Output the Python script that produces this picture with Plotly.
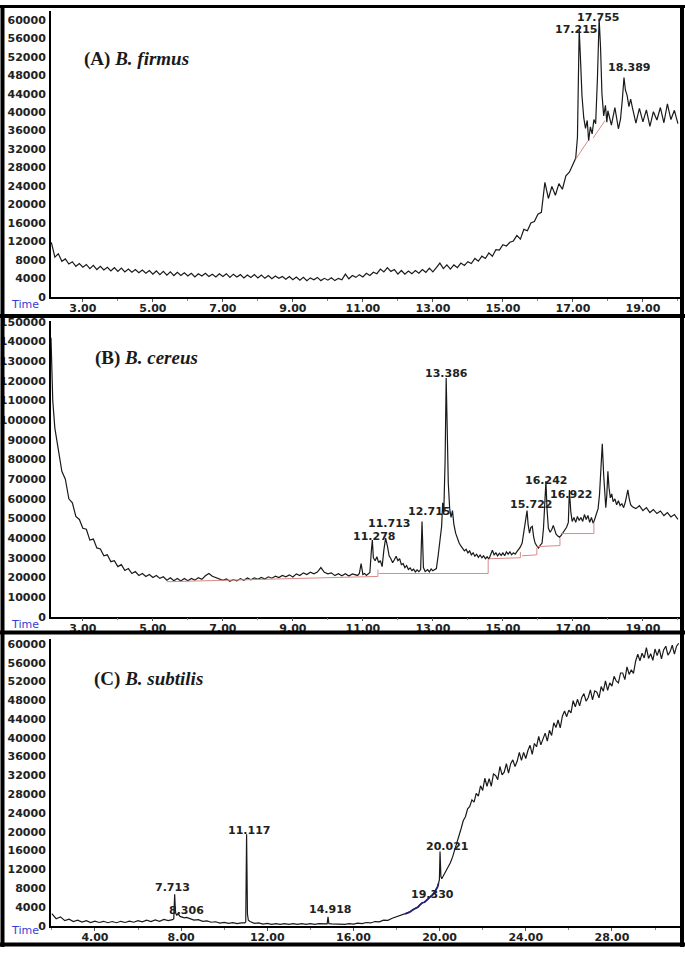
import numpy as np
import plotly.graph_objects as go

# ---------------- Panel A : B. firmus ----------------
A_grid_start, A_grid_step = 2.1, 0.1
A_grid = [
    11800, 8600, 9300, 7700, 8200, 7100, 7600, 6600, 7200,
    6400, 7000, 6100, 6800, 5900, 6600, 5800, 6400, 5600, 6300,
    5500, 6200, 5400, 6000, 5300, 5900, 5200, 5800, 5100, 5700,
    4900, 5600, 4800, 5500, 4700, 5400, 4600, 5300, 4600, 5200,
    4500, 5100, 4300, 5000, 4500, 5100, 4400, 4900, 4300, 5000,
    4400, 5000, 4200, 4900, 4300, 4800, 4100, 4700, 4200, 4800,
    4100, 4700, 4000, 4600, 3900, 4500, 4000, 4400, 3800, 4400,
    3700, 4300, 3600, 4200, 3500, 4100, 3700, 4200, 3500, 4000,
    3600, 4100, 3500, 4000, 3700, 4900, 3900, 4600, 4200, 4800,
    4300, 5100, 4600, 5300, 5000, 6000, 5400, 6300, 5500, 5900,
    4900, 5700, 4900, 5600, 5000, 5700, 5100, 5900, 5300, 6200,
    5400, 6300, 7300, 6100, 6900, 6000, 6900, 6300, 7300, 6800,
    7600, 7200, 8300, 7700, 8800, 8300, 9500, 8800, 10200, 10100,
    11300, 11000, 11800, 12100, 13300, 12500, 14600, 14300, 16000, 16300,
    17900, 18300, 24800, 21300, 23900, 22000, 24500, 23300, 26200, 27000,
    28600, 30300, 32000, 36000, 35000, 36000, 37000, 38000, 39000, 40000,
    40300, 37200, 41000, 36400, 40000, 43000, 42000, 41000, 37600, 40800,
    37900, 40500, 36900, 40100, 38300, 41000, 37700, 41800, 38400, 40400,
    37500,
]
A_peak_t = [
    [17.08, 17.13, 17.18, 17.22, 17.26, 17.31, 17.36, 17.41, 17.45, 17.5,
     17.55, 17.6, 17.65, 17.7, 17.75, 17.79, 17.83, 17.88, 17.93, 17.97],
    [18.36, 18.41, 18.46, 18.5, 18.55, 18.6, 18.65],
]
A_peak_v = [
    [30000, 34500, 58000, 51000, 43500, 38800, 36500, 38200, 33800, 36800,
     35300, 38400, 37500, 47000, 60300, 54000, 44000, 39200, 41500, 37800],
    [38500, 42500, 47500, 44800, 43600, 41200, 42800],
]
A_base_t = [17.08, 17.43, None, 17.58, 17.92]
A_base_v = [29800, 33800, None, 34400, 38200]
A_labels = ["17.215", "17.755", "18.389"]
A_label_t = [17.09, 17.72, 18.60]
A_label_v = [57860, 60430, 49720]

# ---------------- Panel B : B. cereus ----------------
B_grid1_start, B_grid_step = 2.1, 0.1
B_grid1 = [
    118000, 96000, 86000, 74000, 70000, 60000, 58000, 51000, 49500,
    45000, 44500, 39000, 39500, 35000, 34500, 31000, 31500, 28000, 28500,
    25500, 26500, 23500, 24500, 22000, 23000, 21000, 22000, 20500, 21500,
    20000, 21000, 19500, 20300, 18600, 19800, 18300, 19400, 18200, 19400,
    18300, 19500, 18600, 19800, 19000, 20800, 22000, 20600, 19800, 19000,
    18500, 19200, 18000, 18900, 18200, 19400, 18500, 19700, 18800, 19800,
    19000, 20000, 19200, 20300, 19600, 20600, 19900, 21000, 20300, 21300,
    20200, 21800, 21000, 22300, 21500, 22600, 21800, 22700, 25000, 22600,
    21800, 22300, 20900, 21900, 20800, 21900, 20700, 21800, 21000,
]
B_grid2_start = 18.8
B_grid2 = [55000, 56500, 54000, 55500, 53000, 54500, 52500, 53800, 51500,
           53000, 50800, 52000, 49500]
B_peak_t = [
    [2.09, 2.11, 2.14],
    [10.85, 10.9, 10.95, 11.0, 11.05, 11.1, 11.15, 11.2, 11.24, 11.27,
     11.3, 11.35, 11.4, 11.45, 11.5, 11.55, 11.6, 11.65, 11.7, 11.75,
     11.8, 11.85, 11.9, 11.95, 12.0, 12.05, 12.1, 12.15, 12.2, 12.25,
     12.3, 12.35, 12.4, 12.45, 12.5, 12.55, 12.6, 12.65, 12.69, 12.73,
     12.78, 12.85, 12.9, 12.95, 13.0, 13.05, 13.1, 13.15, 13.2, 13.25,
     13.28, 13.31, 13.35, 13.38, 13.41, 13.44, 13.48, 13.52, 13.56, 13.6,
     13.65, 13.7, 13.75, 13.8, 13.85, 13.9, 13.95, 14.0, 14.05, 14.1,
     14.15, 14.2, 14.25, 14.3, 14.35, 14.4, 14.45, 14.5, 14.55, 14.6,
     14.65, 14.7, 14.75, 14.8, 14.85, 14.9, 14.95, 15.0, 15.05, 15.1,
     15.15, 15.2, 15.25, 15.3, 15.35, 15.4, 15.45, 15.5, 15.55, 15.6,
     15.65, 15.69, 15.72, 15.76, 15.8, 15.84, 15.88, 15.92, 15.97, 16.02,
     16.07, 16.12, 16.16, 16.2, 16.23, 16.26, 16.3, 16.35, 16.4, 16.44,
     16.48, 16.52, 16.57, 16.62, 16.67, 16.72, 16.77, 16.82, 16.87, 16.9,
     16.94, 16.98, 17.03, 17.08, 17.13, 17.18, 17.23, 17.28, 17.33, 17.38,
     17.43, 17.48, 17.53, 17.58, 17.63, 17.68, 17.72, 17.76, 17.8, 17.84,
     17.88, 17.91, 17.94, 17.97, 18.0, 18.03, 18.07, 18.11, 18.15, 18.2,
     18.25, 18.3, 18.35, 18.4, 18.45, 18.5, 18.54, 18.57, 18.61, 18.65,
     18.7],
]
B_peak_v = [
    [142000, 126000, 110000],
    [21000, 22000, 27000, 21500, 22000, 21000, 21800, 22500, 33000, 39000,
     30000, 28500, 30500, 27500, 28500, 25500, 34000, 40000, 36000, 31000,
     29500, 27500, 29000, 30800, 28500, 29500, 26500, 27000, 25000, 26000,
     24000, 24800, 23500, 24200, 22800, 23800, 22900, 24000, 48500, 25000,
     23000, 24000, 22800, 24300, 23400, 24000, 24500, 31000, 38000, 46000,
     58000, 52000, 80000, 121500, 95000, 68000, 55000, 50500, 54000, 47000,
     42500, 39500, 37500, 36000, 35000, 33500, 34300, 32500, 33500, 31500,
     32500, 30800, 31800, 30200, 31400, 30000, 31000, 29500, 30500, 29300,
     31500, 33800, 31500, 32500, 31000, 32300, 31200, 32500, 31000, 33000,
     31800, 33000, 31500, 32500, 31800, 33000, 34000, 35500, 37500, 43000,
     50000, 54000, 47000, 42500, 45500, 46000, 40500, 37500, 36000, 35000,
     36500, 37500, 45000, 62000, 69000, 55000, 45000, 43000, 44500, 46500,
     43500, 42000, 41000, 40500, 41500, 43000, 44000, 45500, 48000, 64500,
     53500, 48500, 50500, 48000, 51000, 49000, 50500, 48500, 52000, 49500,
     51500, 48000, 50500, 47500, 50000, 52500, 55000, 62000, 75000, 88000,
     72000, 60000, 55500, 62000, 74000, 66000, 60500, 62500, 58500, 60000,
     57000, 59000, 56500, 57500, 55500, 58500, 62000, 64500, 60000, 57000,
     56000],
]
B_base_t = [5.4, 11.43, 11.43, None, 11.45, 14.58, 14.58, None,
            14.62, 15.5, 15.5, None, 15.55, 15.97, 15.97, None,
            15.99, 16.63, 16.63, None, 16.65, 17.6, 17.6]
B_base_v = [17800, 20500, 24000, None, 22000, 22000, 29000, None,
            29500, 30000, 33000, None, 31000, 31500, 35000, None,
            35700, 36200, 40000, None, 42300, 42300, 48000]
B_labels = ["13.386", "12.715", "11.713", "11.278", "15.722", "16.242", "16.922"]
B_label_t = [13.38, 12.89, 11.75, 11.32, 15.80, 16.23, 16.95]
B_label_v = [123800, 53360, 47320, 40780, 56880, 69470, 62420]

# ---------------- Panel C : B. subtilis ----------------
C_grid1_start, C_grid1_step = 2.0, 0.2
C_grid1 = [
    2600, 1500, 1900, 1100, 1400, 900, 1200, 800, 1100, 700,
    1000, 700, 950, 650, 900, 650, 950, 700, 1000, 750,
    1100, 850, 1200, 900, 1250, 950, 1350, 1100, 1400, 2300,
    1900, 1800, 1600, 1200, 1300, 950, 1050, 750, 850, 550,
    700, 500, 650, 450, 600, 700, 900, 500, 600, 350,
    500, 300, 450, 300, 450, 300, 450, 300, 450, 300,
    450, 300, 450, 350, 500, 400, 350, 450, 300, 450,
    350, 550, 450, 700, 600, 900, 850, 1200, 1150, 1600,
    1900, 2200, 2500, 2900, 3500, 4000,
]
C_grid2_start, C_grid2_step = 19.1, 0.1
C_grid2 = [
    4500, 4900, 5000, 5500, 5800, 6300, 6700, 7400, 8200, 9500,
    10000, 10800, 11800, 12600, 13400, 14600, 16000, 17500, 19300, 20700,
    22400, 23200, 24900, 25400, 26800, 26300, 28200, 27600, 29800, 28800,
    31400, 29700, 31300, 29700, 32300, 32000, 31100, 33900, 32100, 32700,
    34500, 32500, 34500, 35300, 33900, 35000, 36900, 35200, 36900, 35600,
    37300, 38400, 36500, 38800, 38100, 40300, 38500, 39600, 41000, 39300,
    41600, 40500, 43200, 42200, 43800, 42100, 44600, 45700, 44500, 45900,
    45300, 47900, 46600, 48200, 46800, 48600, 49400, 47800, 48600, 50200,
    48100, 50000, 49700, 48500, 50900, 49900, 52100, 50100, 51700, 51000,
    53100, 52100, 51700, 53800, 53800, 52400, 55100, 53500, 54500, 53700,
    56300, 57800, 56400, 58000, 57000, 59200, 56900, 57900, 56500, 58900,
    57500, 58900, 56800, 58700, 59500, 57600, 58300, 59700, 57800, 59500,
    60100,
]
C_peak_t = [
    [7.6, 7.66, 7.7, 7.74, 7.8, 7.86, 7.95, 8.05, 8.15, 8.25],
    [10.95, 11.0, 11.04, 11.08, 11.12, 11.2],
    [14.78, 14.82, 14.86],
    [19.95, 19.99, 20.02, 20.06, 20.1],
]
C_peak_v = [
    [1300, 1500, 6700, 2800, 2200, 2600, 2000, 1900, 1700, 1800],
    [600, 800, 19500, 2500, 1200, 900],
    [400, 1900, 450],
    [9000, 9800, 15800, 10500, 10000],
]
C_labels = ["7.713", "8.306", "11.117", "14.918", "19.330", "20.021"]
C_label_t = [7.62, 8.27, 11.15, 14.91, 19.65, 20.34]
C_label_v = [8210, 3160, 20210, 3370, 6740, 16840]

TITLES = ["(A) <i>B. firmus</i>", "(B) <i>B. cereus</i>", "(C) <i>B. subtilis</i>"]


def build(grids, seg_t, seg_v):
    ts, vs = [], []
    for start, step, vals in grids:
        ts.append(np.round(start + step * np.arange(len(vals)), 3))
        vs.append(np.array(vals, float))
    t = np.concatenate(ts)
    v = np.concatenate(vs)
    keep = np.ones(len(t), bool)
    for st in seg_t:
        keep &= ~((t >= min(st) - 1e-9) & (t <= max(st) + 1e-9))
    tt = np.concatenate([t[keep]] + [np.array(s, float) for s in seg_t])
    vv = np.concatenate([v[keep]] + [np.array(s, float) for s in seg_v])
    order = np.argsort(tt, kind="stable")
    return tt[order], vv[order]


At, Av = build([(A_grid_start, A_grid_step, A_grid)], A_peak_t, A_peak_v)
Bt, Bv = build([(B_grid1_start, B_grid_step, B_grid1),
                (B_grid2_start, B_grid_step, B_grid2)], B_peak_t, B_peak_v)
Ct, Cv = build([(C_grid1_start, C_grid1_step, C_grid1),
                (C_grid2_start, C_grid2_step, C_grid2)], C_peak_t, C_peak_v)

W, H = 685, 954
LINE = "#1a1a1a"
PINK = "#d98a86"

fig = go.Figure()
for (t, v, xa, ya) in [(At, Av, "x", "y"), (Bt, Bv, "x2", "y2"), (Ct, Cv, "x3", "y3")]:
    fig.add_trace(go.Scatter(x=t, y=v, mode="lines", xaxis=xa, yaxis=ya,
                             line=dict(color=LINE, width=1.2), hoverinfo="skip"))
# navy stretch of panel C
mask = (Ct >= 18.3) & (Ct <= 19.95)
fig.add_trace(go.Scatter(x=Ct[mask], y=Cv[mask], mode="lines", xaxis="x3", yaxis="y3",
                         line=dict(color="#22227a", width=1.8), hoverinfo="skip"))
# integration baselines
fig.add_trace(go.Scatter(x=A_base_t, y=A_base_v, mode="lines", xaxis="x", yaxis="y",
                         line=dict(color=PINK, width=1), hoverinfo="skip"))
fig.add_trace(go.Scatter(x=B_base_t, y=B_base_v, mode="lines", xaxis="x2", yaxis="y2",
                         line=dict(color=PINK, width=1), hoverinfo="skip"))

tickfont = dict(family="DejaVu Sans", size=11, color="#222222", weight="bold")


def px2py(y):
    return 1 - y / H


xdom = [51 / W, 680 / W]
ydoms = [[px2py(295.5), px2py(6)], [px2py(619.5), px2py(320)], [px2py(932.5), px2py(642)]]
yranges = [[0, 61930], [0, 150500], [0, 61050]]
ydticks = [4000, 10000, 4000]
xranges = [[2.09, 20.06], [2.09, 20.06], [1.96, 31.16]]
xtick0 = [3, 3, 4]
xdticks = [2, 2, 4]
xminor = [1, 1, 2]

layout = dict(width=W, height=H, margin=dict(l=0, r=0, t=0, b=0),
              paper_bgcolor="white", plot_bgcolor="white", showlegend=False)
for i in range(3):
    sx = "" if i == 0 else str(i + 1)
    layout["xaxis" + sx] = dict(
        domain=xdom, anchor="y" + sx, range=xranges[i], tick0=xtick0[i], dtick=xdticks[i],
        tickformat=".2f", showline=True, linecolor="black", linewidth=1.5,
        ticks="outside", ticklen=3, tickcolor="#555", showgrid=False, zeroline=False,
        tickfont=tickfont, ticklabelstandoff=-3,
        minor=dict(dtick=xminor[i], ticks="outside", ticklen=2, tickcolor="#888"))
    layout["yaxis" + sx] = dict(
        domain=ydoms[i], anchor="x" + sx, range=yranges[i], tick0=0, dtick=ydticks[i],
        tickformat="d", showline=True, linecolor="black", linewidth=2, ticks="",
        showgrid=False, zeroline=False, tickfont=tickfont, ticklabelstandoff=1)
fig.update_layout(**layout)

annotations = []
for i, (labs, lt, lv) in enumerate([(A_labels, A_label_t, A_label_v),
                                     (B_labels, B_label_t, B_label_v),
                                     (C_labels, C_label_t, C_label_v)]):
    sx = "" if i == 0 else str(i + 1)
    for s, t, v in zip(labs, lt, lv):
        annotations.append(dict(text=s, x=t, y=v, xref="x" + sx, yref="y" + sx,
                                showarrow=False, xanchor="center", yanchor="middle",
                                font=dict(family="DejaVu Sans", size=11, color="#222222",
                                          weight="bold")))

title_pos = [(82, 55), (93, 358), (92, 683)]
time_pos = [303, 627, 937]
for i in range(3):
    annotations.append(dict(text="<b>" + TITLES[i] + "</b>", x=title_pos[i][0] / W,
                            y=px2py(title_pos[i][1]), xref="paper", yref="paper",
                            showarrow=False, xanchor="left", yanchor="middle",
                            font=dict(family="Liberation Serif", size=19, color="#1a1a1a")))
    annotations.append(dict(text="Time", x=25 / W, y=px2py(time_pos[i]), xref="paper",
                            yref="paper", showarrow=False, xanchor="center", yanchor="middle",
                            font=dict(family="DejaVu Sans", size=11, color="#3b3bd6")))
fig.update_layout(annotations=annotations)

# panel frames
shapes = []
def hline(y, w):
    shapes.append(dict(type="line", xref="paper", yref="paper", x0=0, x1=1,
                       y0=px2py(y), y1=px2py(y), line=dict(color="black", width=w)))
def vline(x, w):
    shapes.append(dict(type="line", xref="paper", yref="paper", x0=x / W, x1=x / W,
                       y0=0, y1=1, line=dict(color="black", width=w)))
hline(1.5, 3)
hline(315, 4)
hline(635.5, 4)
hline(951.5, 4)
vline(2.5, 4)
vline(682, 4)
fig.update_layout(shapes=shapes)

fig.write_html("out.html", config={"displayModeBar": False},
               post_script="document.body.style.margin='0';document.body.style.overflow='hidden';")
